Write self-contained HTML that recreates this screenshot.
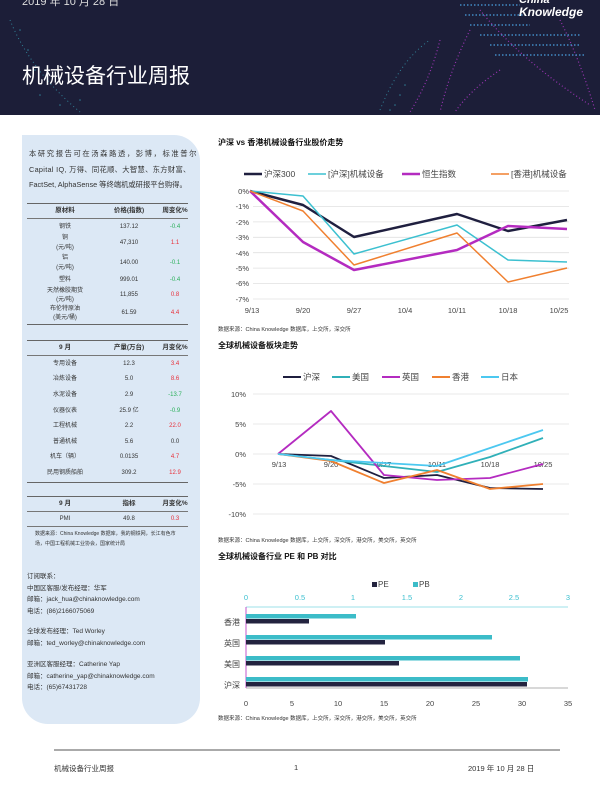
<!DOCTYPE html>
<html><head><meta charset="utf-8">
<style>
body{margin:0;width:600px;height:800px;position:relative;background:#fff;font-family:"Liberation Sans","Noto Sans CJK SC",sans-serif;overflow:hidden}
.a{position:absolute;white-space:nowrap}
.hdr{position:absolute;left:0;top:0;width:600px;height:115px;background:#1c1e38;overflow:hidden}
.side{position:absolute;left:22px;top:135px;width:178px;height:589px;background:#dce8f5;border-radius:0 26px 26px 26px}
.t{position:absolute;left:27px;width:161px;font-size:6px;color:#333}
.r{position:absolute;left:0;width:161px;height:12px;line-height:12px}
.r span{position:absolute;text-align:center}
.c1{left:0;width:76px}.c2{left:76px;width:52px}.c3{left:128px;width:40px}
.g{color:#2bb05a}.rd{color:#e8303a}
.ln{position:absolute;left:0;width:161px;border-top:1px solid #777}
.ct{font-size:6.5px;color:#333;line-height:11.5px}
.tt{font-size:8px;font-weight:bold;color:#111}
</style></head><body>
<div class="hdr">
<svg width="600" height="115" style="position:absolute;left:0;top:0">
<g fill="#3fc4d8" opacity=".55">
<circle cx="20" cy="30" r=".8"/><circle cx="28" cy="50" r=".8"/><circle cx="35" cy="70" r=".8"/><circle cx="40" cy="95" r=".8"/><circle cx="60" cy="105" r=".8"/><circle cx="80" cy="100" r=".8"/><circle cx="400" cy="95" r=".8"/><circle cx="395" cy="105" r=".8"/><circle cx="405" cy="85" r=".8"/><circle cx="390" cy="110" r=".8"/>
</g>
<g stroke="#b83ad0" stroke-width="1.2" stroke-dasharray="1 2.5" fill="none" opacity=".8">
<path d="M440 40 Q430 80 410 112"/><path d="M480 10 Q520 60 590 105"/><path d="M470 30 Q450 70 440 112"/><path d="M560 20 Q580 60 595 110"/><path d="M500 70 Q470 90 455 112"/>
</g>
<g stroke="#4aa0e0" stroke-width="1.2" stroke-dasharray="1.5 2" fill="none">
<path d="M460 5 L520 5"/><path d="M465 15 L525 15"/><path d="M470 25 L530 25"/><path d="M480 35 L580 35"/><path d="M490 45 L580 45"/><path d="M495 55 L585 55"/>
</g>
<g stroke="#3fc4d8" stroke-width="1" stroke-dasharray="1 3" fill="none" opacity=".6">
<path d="M380 110 Q400 60 430 40"/><path d="M10 20 Q30 70 80 112"/>
</g>
</svg>
<div class="a" style="left:22px;top:-7px;font-size:11px;color:#ddd">2019 年 10 月 28 日</div>
<div class="a" style="left:519px;top:-6px;font-size:11px;color:#fff;font-style:italic;font-weight:bold">China</div>
<div class="a" style="left:519px;top:5px;font-size:12px;color:#fff;font-style:italic;font-weight:bold">Knowledge</div>
<div class="a" style="left:22px;top:60px;font-size:21px;color:#fff">机械设备行业周报</div>
</div>

<div class="side"></div>
<div class="a" style="left:29px;top:146px;font-size:7.3px;color:#333;line-height:15.5px"><span style="letter-spacing:1.6px">本研究报告可在汤森路透，彭博，标准普尔</span><br><span style="letter-spacing:0.3px">Capital IQ, 万得、同花顺、大智慧、东方财富、</span><br>FactSet, AlphaSense 等终端机或研报平台购得。</div>

<div class="t" style="top:203px">
<div class="ln" style="top:0;border-top:1.5px solid #666"></div>
<div class="r" style="top:2px;font-weight:bold;font-size:6.5px"><span class="c1">原材料</span><span class="c2">价格(指数)</span><span class="c3">周变化%</span></div>
<div class="ln" style="top:15px"></div>
<div class="r" style="top:18px"><span class="c1">钢铁</span><span class="c2">137.12</span><span class="c3 g">-0.4</span></div>
<div class="r" style="top:30px;line-height:10px;height:20px"><span class="c1">铜<br>(元/吨)</span><span class="c2" style="top:5px">47,310</span><span class="c3 rd" style="top:5px">1.1</span></div>
<div class="r" style="top:50px;line-height:10px;height:20px"><span class="c1">铝<br>(元/吨)</span><span class="c2" style="top:5px">140.00</span><span class="c3 g" style="top:5px">-0.1</span></div>
<div class="r" style="top:71px"><span class="c1">塑料</span><span class="c2">999.01</span><span class="c3 g">-0.4</span></div>
<div class="r" style="top:84px;line-height:9px;height:18px"><span class="c1">天然橡胶期货<br>(元/吨)</span><span class="c2" style="top:4px">11,855</span><span class="c3 rd" style="top:4px">0.8</span></div>
<div class="r" style="top:102px;line-height:9px;height:18px"><span class="c1">布伦特原油<br>(美元/桶)</span><span class="c2" style="top:4px">61.59</span><span class="c3 rd" style="top:4px">4.4</span></div>
<div class="ln" style="top:121px;border-top:1.5px solid #666"></div>
</div>

<div class="t" style="top:340px">
<div class="ln" style="top:0;border-top:1.5px solid #666"></div>
<div class="r" style="top:2px;font-weight:bold;font-size:6.5px"><span class="c1">9 月</span><span class="c2">产量(万台)</span><span class="c3">月变化%</span></div>
<div class="ln" style="top:15px"></div>
<div class="r" style="top:18px"><span class="c1">专用设备</span><span class="c2">12.3</span><span class="c3 rd">3.4</span></div>
<div class="r" style="top:33px"><span class="c1">冶炼设备</span><span class="c2">5.0</span><span class="c3 rd">8.6</span></div>
<div class="r" style="top:49px"><span class="c1">水泥设备</span><span class="c2">2.9</span><span class="c3 g">-13.7</span></div>
<div class="r" style="top:65px"><span class="c1">仪器仪表</span><span class="c2">25.9 亿</span><span class="c3 g">-0.9</span></div>
<div class="r" style="top:80px"><span class="c1">工程机械</span><span class="c2">2.2</span><span class="c3 rd">22.0</span></div>
<div class="r" style="top:96px"><span class="c1">普通机械</span><span class="c2">5.6</span><span class="c3">0.0</span></div>
<div class="r" style="top:111px"><span class="c1">机车（辆）</span><span class="c2">0.0135</span><span class="c3 rd">4.7</span></div>
<div class="r" style="top:127px"><span class="c1">民用钢质船舶</span><span class="c2">309.2</span><span class="c3 rd">12.9</span></div>
<div class="ln" style="top:142px;border-top:1.5px solid #666"></div>
</div>

<div class="t" style="top:496px">
<div class="ln" style="top:0;border-top:1.5px solid #666"></div>
<div class="r" style="top:2px;font-weight:bold;font-size:6.5px"><span class="c1">9 月</span><span class="c2">指标</span><span class="c3">月变化%</span></div>
<div class="ln" style="top:15px"></div>
<div class="r" style="top:17px"><span class="c1">PMI</span><span class="c2">49.8</span><span class="c3 rd">0.3</span></div>
<div class="ln" style="top:30px"></div>
<div style="position:absolute;left:8px;top:33px;font-size:5px;line-height:10px;color:#333">数据来源：China Knowledge 数据库，我的钢铁网，长江有色市<br>场，中国工程机械工业协会，国家统计局</div>
</div>

<div class="a ct" style="left:27px;top:571px">订阅联系：<br>中国区客服/发布经理：华军<br>邮箱：jack_hua@chinaknowledge.com<br>电话：(86)2166075069</div>
<div class="a ct" style="left:27px;top:626px">全球发布经理：Ted Worley<br>邮箱：ted_worley@chinaknowledge.com</div>
<div class="a ct" style="left:27px;top:659px">亚洲区客服经理：Catherine Yap<br>邮箱：catherine_yap@chinaknowledge.com<br>电话：(65)67431728</div>

<div class="a tt" style="left:218px;top:137px">沪深 vs 香港机械设备行业股价走势</div>
<svg class="a" style="left:0;top:0" width="600" height="800" font-family="Liberation Sans, Noto Sans CJK SC, sans-serif">
<g stroke="#e0e0e0" stroke-width="0.8">
<line x1="253" x2="569" y1="191" y2="191"/><line x1="253" x2="569" y1="206.4" y2="206.4"/><line x1="253" x2="569" y1="221.9" y2="221.9"/><line x1="253" x2="569" y1="237.3" y2="237.3"/><line x1="253" x2="569" y1="252.7" y2="252.7"/><line x1="253" x2="569" y1="268.1" y2="268.1"/><line x1="253" x2="569" y1="283.6" y2="283.6"/><line x1="253" x2="569" y1="299" y2="299"/>
</g>
<g font-size="7.5" fill="#444" text-anchor="end">
<text x="249" y="194">0%</text><text x="249" y="209">-1%</text><text x="249" y="225">-2%</text><text x="249" y="240">-3%</text><text x="249" y="256">-4%</text><text x="249" y="271">-5%</text><text x="249" y="286">-6%</text><text x="249" y="302">-7%</text>
</g>
<g font-size="7.5" fill="#444" text-anchor="middle">
<text x="252" y="313">9/13</text><text x="303" y="313">9/20</text><text x="354" y="313">9/27</text><text x="405" y="313">10/4</text><text x="457" y="313">10/11</text><text x="508" y="313">10/18</text><text x="559" y="313">10/25</text>
</g>
<g fill="none" stroke-linejoin="round">
<polyline stroke="#1f1f3f" stroke-width="2.5" points="250,191 303,205 354,237 457,214 508,231 567,220"/>
<polyline stroke="#3cc0d0" stroke-width="1.5" points="250,191 303,196 354,254 457,225 508,260 567,262"/>
<polyline stroke="#b42bc0" stroke-width="2.5" points="250,191 303,242 354,270 457,250 508,226 567,229"/>
<polyline stroke="#f08030" stroke-width="1.5" points="250,191 303,211 354,265 457,233 508,282 567,268"/>
</g>
<g font-size="8.5" fill="#444">
<line x1="244" x2="262" y1="174" y2="174" stroke="#1f1f3f" stroke-width="2.5"/><text x="264" y="177">沪深300</text>
<line x1="308" x2="326" y1="174" y2="174" stroke="#3cc0d0" stroke-width="1.5"/><text x="328" y="177">[沪深]机械设备</text>
<line x1="402" x2="420" y1="174" y2="174" stroke="#b42bc0" stroke-width="2.5"/><text x="422" y="177">恒生指数</text>
<line x1="491" x2="509" y1="174" y2="174" stroke="#f08030" stroke-width="1.5"/><text x="511" y="177">[香港]机械设备</text>
</g>
<text x="218" y="331" font-size="5.5" fill="#333">数据来源：China Knowledge 数据库，上交所，深交所</text>

<g stroke="#e0e0e0" stroke-width="0.8">
<line x1="253" x2="569" y1="394" y2="394"/><line x1="253" x2="569" y1="424" y2="424"/><line x1="253" x2="569" y1="454" y2="454"/><line x1="253" x2="569" y1="484" y2="484"/><line x1="253" x2="569" y1="514" y2="514"/>
</g>
<g font-size="7.5" fill="#444" text-anchor="end">
<text x="246" y="397">10%</text><text x="246" y="427">5%</text><text x="246" y="457">0%</text><text x="246" y="487">-5%</text><text x="246" y="517">-10%</text>
</g>
<g font-size="7.5" fill="#444" text-anchor="middle">
<text x="279" y="467">9/13</text><text x="331" y="467">9/20</text><text x="384" y="467">9/27</text><text x="437" y="467">10/11</text><text x="490" y="467">10/18</text><text x="543" y="467">10/25</text>
</g>
<g fill="none" stroke-width="1.8" stroke-linejoin="round">
<polyline stroke="#1f1f3f" points="278,454 331,456 384,478 437,475 490,488 543,489"/>
<polyline stroke="#30b0b8" points="278,454 331,460 384,466 437,472 490,457 543,438"/>
<polyline stroke="#b42bc0" points="278,454 331,411 384,475 437,480 490,478 543,464"/>
<polyline stroke="#f08030" points="278,454 331,461 384,483 437,470 490,489 543,484"/>
<polyline stroke="#4cc8f0" points="278,454 331,460 384,463 437,466 490,448 543,430"/>
</g>
<g font-size="8.5" fill="#444">
<line x1="283" x2="301" y1="377" y2="377" stroke="#1f1f3f" stroke-width="2"/><text x="303" y="380">沪深</text>
<line x1="332" x2="350" y1="377" y2="377" stroke="#30b0b8" stroke-width="2"/><text x="352" y="380">美国</text>
<line x1="382" x2="400" y1="377" y2="377" stroke="#b42bc0" stroke-width="2"/><text x="402" y="380">英国</text>
<line x1="432" x2="450" y1="377" y2="377" stroke="#f08030" stroke-width="2"/><text x="452" y="380">香港</text>
<line x1="481" x2="499" y1="377" y2="377" stroke="#4cc8f0" stroke-width="2"/><text x="501" y="380">日本</text>
</g>
<text x="218" y="542" font-size="5.5" fill="#333">数据来源：China Knowledge 数据库，上交所，深交所，港交所，美交所，英交所</text>

<line x1="246" x2="568" y1="607" y2="607" stroke="#7dd8e0" stroke-width="0.8"/>
<line x1="246" x2="568" y1="688" y2="688" stroke="#999" stroke-width="0.8"/>
<line x1="246" x2="246" y1="607" y2="688" stroke="#b42bc0" stroke-width="0.8"/>
<g font-size="7.5" fill="#3cc0d0" text-anchor="middle">
<text x="246" y="600">0</text><text x="300" y="600">0.5</text><text x="353" y="600">1</text><text x="407" y="600">1.5</text><text x="461" y="600">2</text><text x="514" y="600">2.5</text><text x="568" y="600">3</text>
</g>
<g font-size="7.5" fill="#444" text-anchor="middle">
<text x="246" y="706">0</text><text x="292" y="706">5</text><text x="338" y="706">10</text><text x="384" y="706">15</text><text x="430" y="706">20</text><text x="476" y="706">25</text><text x="522" y="706">30</text><text x="568" y="706">35</text>
</g>
<g font-size="8" fill="#444" text-anchor="end">
<text x="240" y="625">香港</text><text x="240" y="646">英国</text><text x="240" y="667">美国</text><text x="240" y="688">沪深</text>
</g>
<g fill="#3cbcc8">
<rect x="246" y="614" width="110" height="4.5"/><rect x="246" y="635" width="246" height="4.5"/><rect x="246" y="656" width="274" height="4.5"/><rect x="246" y="677" width="282" height="4.5"/>
</g>
<g fill="#23233f">
<rect x="246" y="619" width="63" height="4.5"/><rect x="246" y="640" width="139" height="4.5"/><rect x="246" y="661" width="153" height="4.5"/><rect x="246" y="682" width="281" height="4.5"/>
</g>
<rect x="372" y="582" width="5" height="5" fill="#23233f"/><text x="378" y="587" font-size="8" fill="#444">PE</text>
<rect x="413" y="582" width="5" height="5" fill="#3cbcc8"/><text x="419" y="587" font-size="8" fill="#444">PB</text>
<text x="218" y="720" font-size="5.5" fill="#333">数据来源：China Knowledge 数据库，上交所，深交所，港交所，美交所，英交所</text>

<line x1="54" x2="560" y1="750" y2="750" stroke="#555" stroke-width="1"/>
</svg>
<div class="a tt" style="left:218px;top:340px">全球机械设备板块走势</div>
<div class="a tt" style="left:218px;top:551px">全球机械设备行业 PE 和 PB 对比</div>
<div class="a" style="left:54px;top:763px;font-size:7.5px;color:#333">机械设备行业周报</div>
<div class="a" style="left:294px;top:763px;font-size:7.5px;color:#333">1</div>
<div class="a" style="left:468px;top:763px;font-size:7.5px;color:#333">2019 年 10 月 28 日</div>
</body></html>
